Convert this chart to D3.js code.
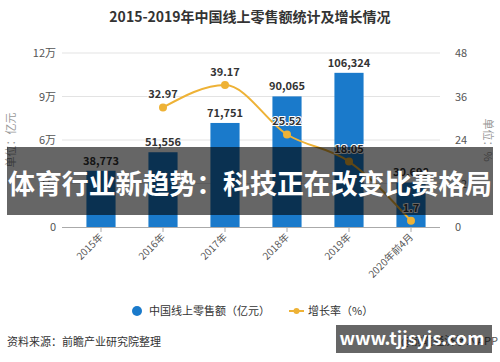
<!DOCTYPE html>
<html>
<head>
<meta charset="utf-8">
<script src="https://cdn.jsdelivr.net/npm/d3@7"></script>
<style>
  body { margin: 0; background: #fff; }
  svg { display: block; font-family: "Noto Sans CJK SC", "Noto Sans", sans-serif; }
</style>
</head>
<body>
<svg id="chart" width="500" height="362"></svg>
<script>
// datos
var categorias = ["2015年", "2016年", "2017年", "2018年", "2019年", "2020年前4月"];
var ventas = [38773, 51556, 71751, 90065, 106324, 30698];
var crecimiento = [null, 32.97, 39.17, 25.52, 18.05, 1.7];
var ticksIzq = [0, 30000, 60000, 90000, 120000];
var ticksDer = [0, 12, 24, 36, 48];

var azul = "#1a7acb";
var naranja = "#eeb236";

var svg = d3.select("#chart");

var x = d3.scaleBand().domain(categorias).range([70, 442]).paddingInner(0.53).paddingOuter(0.265);
var yIzq = d3.scaleLinear().domain([0, 120000]).range([227, 53]);
var yDer = d3.scaleLinear().domain([0, 48]).range([227, 53]);

// titulo
svg.append("text")
    .attr("x", 250).attr("y", 22)
    .attr("text-anchor", "middle")
    .style("font-size", "14px").style("font-weight", "bold").style("fill", "#333")
    .text("2015-2019年中国线上零售额统计及增长情况");

// lineas de grilla
svg.append("g").selectAll("line")
    .data(ticksIzq.slice(1))
    .enter().append("line")
    .attr("x1", 62).attr("x2", 440)
    .attr("y1", function (d) { return yIzq(d); })
    .attr("y2", function (d) { return yIzq(d); })
    .attr("stroke", "#e3e3e3");

// eje izquierdo
svg.append("g").selectAll("text")
    .data(ticksIzq)
    .enter().append("text")
    .attr("x", 56).attr("y", function (d) { return yIzq(d) + 4; })
    .attr("text-anchor", "end")
    .style("font-size", "11px").style("fill", "#555")
    .text(function (d) { return d === 0 ? "0" : (d / 10000) + "万"; });

// eje derecho
svg.append("g").selectAll("text")
    .data(ticksDer)
    .enter().append("text")
    .attr("x", 455).attr("y", function (d) { return yDer(d) + 4; })
    .style("font-size", "11px").style("fill", "#555")
    .text(function (d) { return d; });

svg.append("text")
    .attr("transform", "translate(15,140) rotate(-90)")
    .attr("text-anchor", "middle")
    .style("font-size", "11px").style("fill", "#999")
    .text("单位：亿元");

svg.append("text")
    .attr("transform", "translate(484,140) rotate(90)")
    .attr("text-anchor", "middle")
    .style("font-size", "11px").style("fill", "#999")
    .text("单位：%");

// barras
svg.append("g").selectAll("rect")
    .data(ventas)
    .enter().append("rect")
    .attr("x", function (d, i) { return x(categorias[i]); })
    .attr("width", x.bandwidth())
    .attr("y", function (d) { return yIzq(d); })
    .attr("height", function (d) { return yIzq(0) - yIzq(d); })
    .attr("fill", azul);

// eje x
var ejeX = d3.axisBottom(x).tickSize(5).tickSizeOuter(0);
var gx = svg.append("g")
    .attr("transform", "translate(0,227)")
    .call(ejeX);
gx.select(".domain").attr("stroke", "#aaa").attr("d", "M62,0.5H440");
gx.selectAll(".tick line").attr("stroke", "#aaa");
gx.selectAll(".tick text")
    .attr("transform", "translate(-4,4) rotate(-45)")
    .attr("text-anchor", "end")
    .attr("dy", "0.35em").attr("y", 6)
    .style("font-size", "10px").style("fill", "#555")
    .style("font-family", "\"Noto Sans CJK SC\", sans-serif");

// etiquetas de barras
svg.append("g").selectAll("text")
    .data(ventas)
    .enter().append("text")
    .attr("x", function (d, i) { return x(categorias[i]) + x.bandwidth() / 2; })
    .attr("y", function (d) { return yIzq(d) - 6; })
    .attr("text-anchor", "middle")
    .style("font-size", "11px").style("font-weight", "bold").style("fill", "#333")
    .text(function (d) { return d3.format(",")(d); });

// linea de crecimiento
var puntos = crecimiento.map(function (v, i) { return { c: categorias[i], v: v }; })
    .filter(function (p) { return p.v !== null; });

var linea = d3.line()
    .x(function (p) { return x(p.c) + x.bandwidth() / 2; })
    .y(function (p) { return yDer(p.v); })
    .curve(d3.curveMonotoneX);

svg.append("path")
    .datum(puntos)
    .attr("d", linea)
    .attr("fill", "none")
    .attr("stroke", naranja)
    .attr("stroke-width", 2);

svg.append("g").selectAll("circle")
    .data(puntos)
    .enter().append("circle")
    .attr("cx", function (p) { return x(p.c) + x.bandwidth() / 2; })
    .attr("cy", function (p) { return yDer(p.v); })
    .attr("r", 4)
    .attr("fill", naranja);

svg.append("g").selectAll("text")
    .data(puntos)
    .enter().append("text")
    .attr("x", function (p) { return x(p.c) + x.bandwidth() / 2; })
    .attr("y", function (p) { return yDer(p.v) - 9; })
    .attr("text-anchor", "middle")
    .style("font-size", "11px").style("font-weight", "bold").style("fill", "#333")
    .style("paint-order", "stroke").attr("stroke", "#fff").attr("stroke-width", 2)
    .text(function (p) { return p.v; });

// leyenda
svg.append("circle").attr("cx", 137).attr("cy", 311).attr("r", 5).attr("fill", azul);
svg.append("text").attr("x", 149).attr("y", 315)
    .style("font-size", "11px").style("fill", "#333")
    .text("中国线上零售额（亿元）");
svg.append("line").attr("x1", 289).attr("x2", 304).attr("y1", 311).attr("y2", 311)
    .attr("stroke", naranja).attr("stroke-width", 2);
svg.append("circle").attr("cx", 296.5).attr("cy", 311).attr("r", 3).attr("fill", naranja);
svg.append("text").attr("x", 308).attr("y", 315)
    .style("font-size", "11px").style("fill", "#333")
    .text("增长率（%）");

// fuente
svg.append("text").attr("x", 7).attr("y", 346)
    .style("font-size", "11px").style("fill", "#333")
    .text("资料来源：前瞻产业研究院整理");
svg.append("text").attr("x", 498).attr("y", 345)
    .attr("text-anchor", "end")
    .style("font-size", "11px").style("fill", "#555")
    .text("@前瞻经济学人APP");

// banda superpuesta
svg.append("rect")
    .attr("x", 7).attr("y", 147).attr("width", 486).attr("height", 68)
    .attr("fill", "rgba(0,0,0,0.6)");
svg.append("text")
    .attr("x", 250).attr("y", 194)
    .attr("text-anchor", "middle")
    .attr("textLength", 484).attr("lengthAdjust", "spacingAndGlyphs")
    .style("font-size", "27px").style("font-weight", "bold").style("fill", "#fff")
    .text("体育行业新趋势：科技正在改变比赛格局");

// marca de agua del sitio
svg.append("rect")
    .attr("x", 336).attr("y", 325).attr("width", 156).attr("height", 28)
    .attr("fill", "rgba(0,0,0,0.6)");
svg.append("text")
    .attr("x", 412).attr("y", 345)
    .attr("text-anchor", "middle")
    .style("font-size", "18px").style("font-weight", "bold").style("fill", "#fff")
    .text("www.tjjsyjs.com");
</script>
</body>
</html>
